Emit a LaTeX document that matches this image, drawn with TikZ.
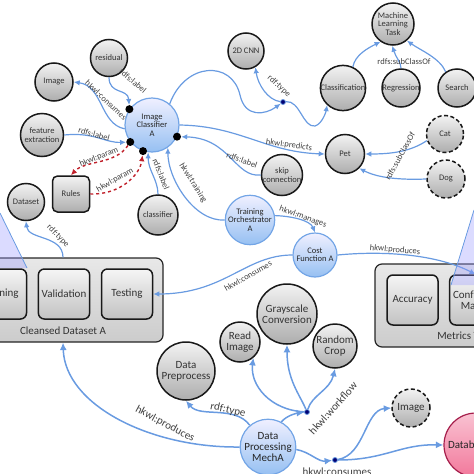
\documentclass[tikz,border=0pt]{standalone}
\usepackage{fontspec}
\setmainfont{Carlito}
\usetikzlibrary{arrows.meta}
\definecolor{linkblue}{RGB}{105,155,225}
\definecolor{agentline}{RGB}{115,165,230}
\definecolor{agentfill}{RGB}{150,192,242}
\definecolor{paramred}{RGB}{192,32,42}
\definecolor{dbfill}{RGB}{242,120,155}
\definecolor{dbline}{RGB}{165,30,75}
\begin{document}
\begin{tikzpicture}[x=1pt,y=-1pt,
    small/.style={font=\fontsize{8.5}{8.5}\selectfont},
    big/.style={font=\fontsize{11}{11}\selectfont},
    res/.style={circle,draw=black!90,line width=1.5pt,top color=black!5,bottom color=black!32,
                text=black!80,align=center,inner sep=0pt},
    ghost/.style={res,dash pattern=on 4pt off 2.5pt},
    agent/.style={circle,draw=agentline,line width=1.2pt,top color=blue!6,bottom color=agentfill,
                text=black!85,align=center,inner sep=0pt},
    part/.style={rectangle,rounded corners=6pt,draw=black!90,line width=1.5pt,top color=black!4,
                bottom color=black!24,text=black!80,minimum width=51pt,minimum height=50pt,big},
    group/.style={rectangle,rounded corners=7pt,draw=black!85,line width=1.2pt,top color=black!9,
                bottom color=black!20},
    link/.style={draw=linkblue,line width=1.2pt,-{Latex[length=6pt,width=5.5pt]}},
    heavy/.style={link,line width=1.5pt,-{Latex[length=7.5pt,width=7pt]}},
    param/.style={draw=paramred,line width=1.4pt,dashed,-{Latex[length=6pt,width=5.5pt]}},
    pin/.style={circle,fill=black,minimum size=8pt,inner sep=0pt},
    joint/.style={circle,fill=blue!45!black,draw=linkblue,line width=.8pt,minimum size=5pt,inner sep=0pt},
    rel/.style={small,inner sep=1pt,text=black!75},
    relb/.style={rel,big}]
\useasboundingbox (0,0) rectangle (474,474);
\clip (0,0) rectangle (474,474);

% datasets and metrics
\node[group,minimum width=200pt,minimum height=84pt] (cleansed) at (63,300) {};
\foreach \name/\x/\txt in {training/1/Training,validation/64/Validation,testing/127/Testing}
    \node[part] (\name) at (\x,294) {\txt};
\node[big,text=black!80] (cleansedlbl) at (63,331) {Cleansed Dataset A};
\node[group,minimum width=201pt,minimum height=83pt] (metrics) at (475.5,305.5) {};
\node[part] (accuracy) at (412.5,300) {Accuracy};
\node[part,align=center] (confusion) at (475.5,300) {Confusion\\Matrix};
\node[big,text=black!80] (metricslbl) at (471,337) {Metrics Testing};

% classifier side
\node[agent,small,minimum size=54pt] (clf) at (152,125) {Image\\Classifier\\A};
\node[res,small,minimum size=37pt] (resid) at (109,58) {residual};
\node[res,small,minimum size=38pt] (img) at (54,82) {Image};
\node[res,small,minimum size=43pt] (feat) at (42,135) {feature\\extraction};
\node[res,small,rectangle,rounded corners=5pt,minimum width=37pt,minimum height=36pt] (rules) at (71,194) {Rules};
\node[res,small,minimum size=37pt] (dataset) at (26,202) {Dataset};
\node[res,small,minimum size=40pt] (classifier) at (158,215) {classifier};
\node[res,small,minimum size=37pt] (skip) at (282,175) {skip\\connection};
\node[res,small,minimum size=36pt] (cnn) at (246,51) {2D CNN};
\node[res,small,minimum size=42pt] (mlt) at (393,24) {Machine\\Learning\\Task};
\node[res,small,minimum size=40pt] (classif) at (343,88) {Classification};
\node[res,small,minimum size=38pt] (regr) at (401,88) {Regression};
\node[res,small,minimum size=38pt] (search) at (457,88) {Search};
\node[res,small,minimum size=39pt] (pet) at (345,154) {Pet};
\node[ghost,small,minimum size=37pt] (cat) at (445,134) {Cat};
\node[ghost,small,minimum size=38pt] (dog) at (446,179) {Dog};
\node[agent,small,minimum size=44pt] (orch) at (250,220) {Training\\Orchestrator\\A};
\node[agent,small,minimum size=44pt] (cost) at (315,255) {Cost\\Function A};

% processing side
\node[res,big,minimum size=60pt] (gray) at (287,314) {Grayscale\\Conversion};
\node[res,big,minimum size=44pt] (crop) at (335,346) {Random\\Crop};
\node[res,big,minimum size=40pt] (read) at (240,342) {Read\\Image};
\node[res,big,minimum size=58pt] (prep) at (186,371) {Data\\Preprocess};
\node[agent,big,minimum size=52pt] (dpm) at (268,447) {Data\\Processing\\MechA};
\node[ghost,big,minimum size=38pt] (img2) at (411,408) {Image};
\node[circle,draw=dbline,line width=1.2pt,top color=dbfill!45,bottom color=dbfill,big,text=black!85,
      minimum size=64pt,inner sep=0pt,text width=56pt,align=left] (db) at (476,445) {Database};

\node[pin] (p1) at (clf.145) {};
\node[pin] (p2) at (clf.218) {};
\node[pin] (p3) at (clf.251) {};
\node[pin] (p4) at (clf.335) {};
\node[joint] (tj) at (283,102) {};
\node[joint] (wj) at (307,412) {};
\node[joint] (cj) at (335,460) {};

% links around the classifier
\draw[link] (clf.188) .. controls (100,124) and (103,86) .. (img.east);
\draw[link] (resid.south) .. controls (109,95) and (128,88) .. (p1);
\draw[link] (feat.east) .. controls (95,132) and (105,143) .. (p2);
\draw[param] (p2) .. controls (115,165) and (85,160) .. (rules.north);
\draw[param] (rules.east) .. controls (120,195) and (140,175) .. (p3);
\draw[link] (classifier.north) .. controls (158,180) and (148,170) .. (clf.262);
\draw[link] (orch.west) .. controls (195,222) and (168,180) .. (clf.305);
\draw[link] (skip.west) .. controls (235,178) and (230,138) .. (p4);
\draw[link] (clf.east) .. controls (240,126) and (265,152) .. (pet.west);
\draw[link] (clf.50) .. controls (185,62) and (232,60) .. (240,95) .. controls (245,118) and (265,115) .. (tj);
\draw[link] (tj) .. controls (268,100) and (258,85) .. (cnn.300);
\draw[link] (tj) .. controls (300,100) and (303,128) .. (315,126) .. controls (322,124) and (326,112) .. (classif.227);
\draw[link] (classif.65) .. controls (355,55) and (368,48) .. (mlt.235);
\draw[link] (regr.north) .. controls (401,62) and (396,58) .. (mlt.268);
\draw[link] (search.125) .. controls (440,58) and (420,50) .. (mlt.310);
\draw[link] (cat.200) .. controls (410,152) and (390,154) .. (pet.east);
\draw[link] (dog.west) .. controls (400,180) and (378,178) .. (pet.315);
\draw[link] (orch.10) .. controls (290,216) and (310,220) .. (cost.north);
\draw[link] (cost.west) .. controls (245,255) and (225,294) .. (testing.east);
\draw[link] (cost.east) .. controls (390,250) and (440,256) .. (confusion.north);
\draw[link] (cleansed.north) .. controls (63,235) and (28,240) .. (dataset.south);

% links around the processing mech
\draw[heavy] (dpm.west) .. controls (150,448) and (65,405) .. (cleansed.south);
\draw[heavy] (dpm.130) .. controls (235,405) and (200,418) .. (prep.south);
\draw[heavy] (dpm.62) .. controls (287,415) and (298,413) .. (wj);
\draw[heavy] (wj) .. controls (270,410) and (250,385) .. (read.310);
\draw[heavy] (wj) .. controls (300,395) and (287,380) .. (gray.south);
\draw[heavy] (wj) .. controls (312,395) and (330,390) .. (crop.south);
\draw[heavy] (dpm.-5) .. controls (310,452) and (318,462) .. (cj);
\draw[heavy] (cj) .. controls (365,455) and (365,410) .. (img2.west);
\draw[heavy] (cj) .. controls (385,460) and (400,444) .. (db.west);

% labels
\node[rel,rotate=-43] (l1) at (106,100) {hkwl:consumes};
\node[rel,rotate=-40] (l2) at (133,81) {rdfs:label};
\node[rel,rotate=-15] (l3) at (94,134) {rdfs:label};
\node[rel,rotate=22] (l4) at (99,157) {hkwl:param};
\node[rel,rotate=30] (l5) at (115,180) {hkwl:param};
\node[rel,rotate=-68] (l6) at (161,174) {rdfs:label};
\node[rel,rotate=-58] (l7) at (193,183) {hkwl:training};
\node[rel,rotate=-20] (l8) at (242,160) {rdfs:label};
\node[rel,rotate=-8] (l9) at (289,145) {hkwl:predicts};
\node[rel,rotate=-42] (l10) at (279,86) {rdf:type};
\node[rel] (l11) at (404,62) {rdfs:subClassOf};
\node[rel,rotate=61] (l12) at (400,156) {rdfs:subClassOf};
\node[rel,rotate=-20] (l13) at (303,217) {hkwl:manages};
\node[rel,rotate=30] (l14) at (248,276) {hkwl:consumes};
\node[rel,rotate=-5] (l15) at (395,250) {hkwl:produces};
\node[rel,rotate=-45] (l16) at (58,236) {rdf:type};
\node[relb,rotate=-28] (l17) at (165,424) {hkwl:produces};
\node[relb,rotate=-12] (l18) at (228,410) {rdf:type};
\node[relb,rotate=48] (l19) at (333,408) {hkwl:workflow};
\node[relb] (l20) at (337,472) {hkwl:consumes};

% callout wedges at the edges
\fill[blue!40,opacity=.35] (0,213) -- (27,268) -- (0,268) -- cycle;
\draw[linkblue,line width=.8pt] (0,213) -- (27,268);
\fill[blue!40,opacity=.35] (474,210) -- (451,285) -- (474,285) -- cycle;
\draw[linkblue,line width=.8pt] (474,210) -- (451,285);
\end{tikzpicture}
\end{document}
